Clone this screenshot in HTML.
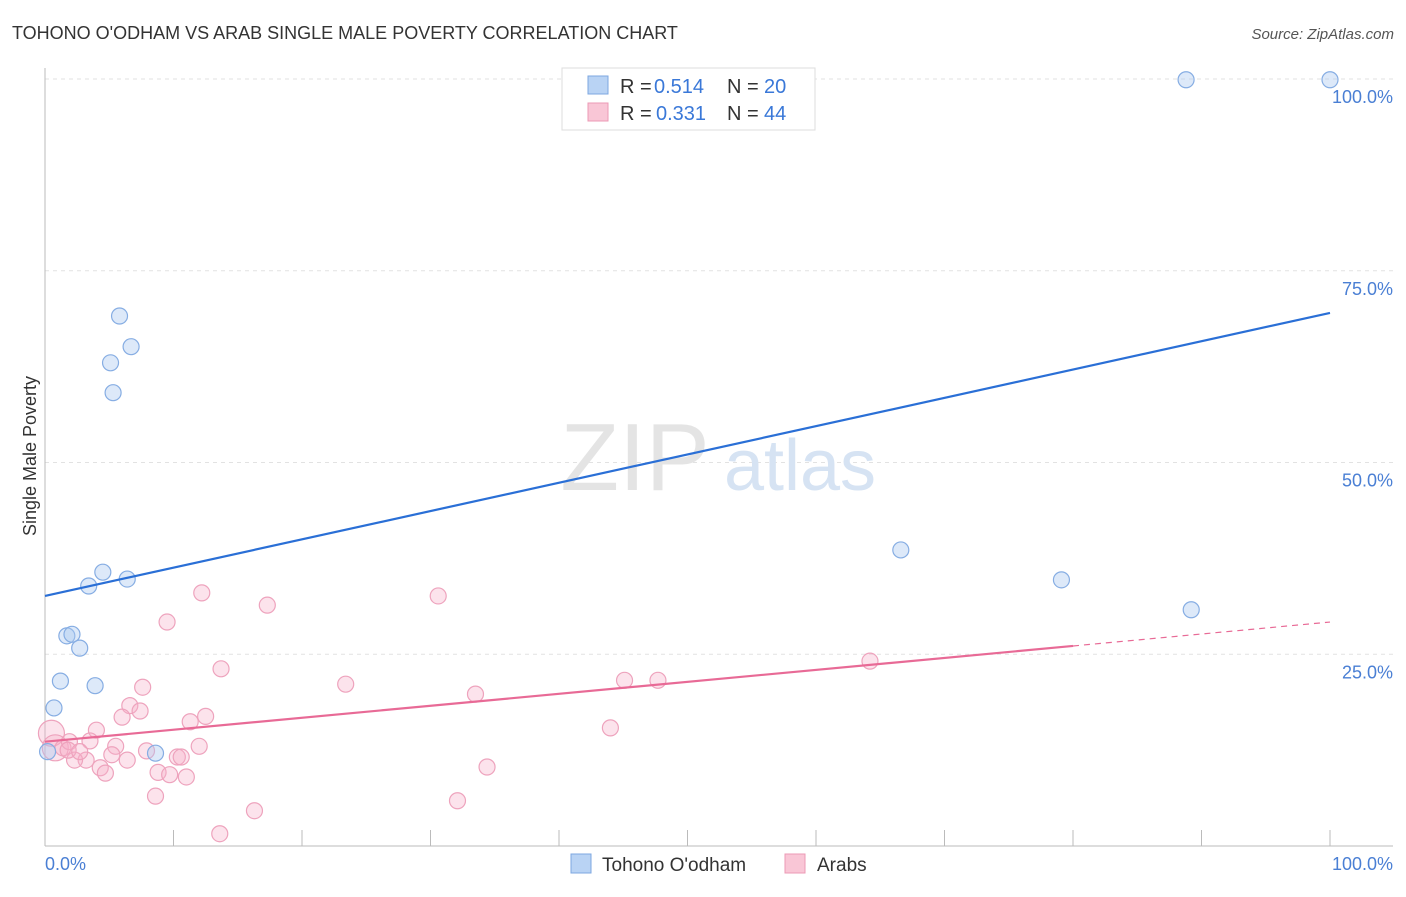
<!DOCTYPE html>
<html><head><meta charset="utf-8"><style>
body{margin:0;background:#fff;font-family:"Liberation Sans",sans-serif;}
svg text{font-family:"Liberation Sans",sans-serif;}
</style></head><body>
<svg id="chart" width="1406" height="892" xmlns="http://www.w3.org/2000/svg">
<text x="12" y="39" font-size="18" fill="#333">TOHONO O'ODHAM VS ARAB SINGLE MALE POVERTY CORRELATION CHART</text>
<text x="1394" y="39" font-size="15" fill="#555" font-style="italic" text-anchor="end">Source: ZipAtlas.com</text>
<g id="grid"></g>
<text x="635" y="490" font-size="96" fill="#e4e4e4" font-family="Liberation Serif" text-anchor="middle">ZIP</text>
<text x="800" y="490" font-size="72" fill="#d6e3f3" text-anchor="middle">atlas</text>
<g id="marks"></g>
<text x="36" y="456" font-size="18" fill="#333" transform="rotate(-90 36 456)" text-anchor="middle">Single Male Poverty</text>
<text x="45" y="870" font-size="18" fill="#4a7fd4">0.0%</text>
<text x="1393" y="870" font-size="18" fill="#4a7fd4" text-anchor="end">100.0%</text>
<g>
<rect x="562" y="68" width="253" height="62" fill="#fff" stroke="#ddd"/>
<rect x="588" y="76" width="20" height="18" fill="#b9d3f4" stroke="#7da7e0"/>
<rect x="588" y="103" width="20" height="18" fill="#f9c6d6" stroke="#ec9ab5"/>
<text x="620" y="93" font-size="20" fill="#333">R =</text>
<text x="654" y="93" font-size="20" fill="#3a78d8">0.514</text>
<text x="727" y="93" font-size="20" fill="#333">N =</text>
<text x="764" y="93" font-size="20" fill="#3a78d8">20</text>
<text x="620" y="120" font-size="20" fill="#333">R =</text>
<text x="656" y="120" font-size="20" fill="#3a78d8">0.331</text>
<text x="727" y="120" font-size="20" fill="#333">N =</text>
<text x="764" y="120" font-size="20" fill="#3a78d8">44</text>
</g>
<g>
<rect x="571" y="854" width="20" height="19" fill="#b9d3f4" stroke="#7da7e0"/>
<text x="602" y="871" font-size="19" fill="#333">Tohono O'odham</text>
<rect x="785" y="854" width="20" height="19" fill="#f9c6d6" stroke="#ec9ab5"/>
<text x="817" y="871" font-size="19" fill="#333">Arabs</text>
</g>
</svg>
<script>
const yTicks=[25,50,75,100];
const yTickLabels=["25.0%","50.0%","75.0%","100.0%"];
const blueX=[88.8,100,5.8,6.7,5.1,5.3,66.6,79.1,89.2,4.5,6.4,3.4,1.7,2.1,2.7,1.2,3.9,0.7,8.6,0.2];
const blueY=[99.9,99.9,69.1,65.1,63.0,59.1,38.6,34.7,30.8,35.7,34.8,33.9,27.4,27.6,25.8,21.5,20.9,18.0,12.1,12.3];
const pinkX=[12.2,17.3,30.6,9.5,13.7,64.2,23.4,45.1,47.7,33.5,7.6,6.6,7.4,6.0,12.5,11.3,4.0,44.0,3.5,5.5,12.0,7.9,10.3,10.6,5.2,6.4,3.2,2.3,4.3,4.7,8.8,9.7,11.0,34.4,8.6,32.1,16.3,13.6,0.5,0.8,1.4,1.9,1.8,2.7];
const pinkY=[33.0,31.4,32.6,29.2,23.1,24.1,21.1,21.6,21.6,19.8,20.7,18.3,17.6,16.8,16.9,16.2,15.1,15.4,13.7,13.0,13.0,12.4,11.6,11.6,11.9,11.2,11.2,11.2,10.2,9.5,9.6,9.3,9.0,10.3,6.5,5.9,4.6,1.6,14.7,12.8,12.8,13.6,12.5,12.3];
const blueLine=[32.6,69.5];
const pinkLine=[13.6,29.2];
const pinkSolidEnd=80;
const NS="http://www.w3.org/2000/svg";
const sx=v=>45+v*12.85, sy=v=>846-v*7.67;
function mk(t,a,p){const e=document.createElementNS(NS,t);for(const k in a)e.setAttribute(k,a[k]);p.appendChild(e);return e;}
const grid=document.getElementById('grid'), marks=document.getElementById('marks');
yTicks.forEach((t,i)=>{
 const l=mk('line',{x1:45,x2:1393,y1:sy(t),y2:sy(t),stroke:'#e2e2e2','stroke-dasharray':'4,4'},grid);
 
 
 const tx=mk('text',{x:1393,y:sy(t)+24,'font-size':18,fill:'#4a7fd4','text-anchor':'end'},grid);
 tx.textContent=yTickLabels[i];
 
 
});
const ax=mk('line',{x1:45,x2:1393,y1:846,y2:846,stroke:'#bbb'},grid);


const ay=mk('line',{x1:45,x2:45,y1:68,y2:846,stroke:'#bbb'},grid);


for(let i=0;i<=10;i++){const t=mk('line',{x1:sx(i*10),x2:sx(i*10),y1:830,y2:846,stroke:'#bbb'},grid);
 
 }
pinkX.forEach((x,i)=>{const r=(i>=38&&i<=39)?13:8;const c=mk('circle',{cx:sx(x),cy:sy(pinkY[i]),r:r,fill:'rgba(246,176,200,0.35)',stroke:'#eea3bd','stroke-width':1.2},marks);
 
 });
blueX.forEach((x,i)=>{const c=mk('circle',{cx:sx(x),cy:sy(blueY[i]),r:8,fill:'rgba(170,200,240,0.4)',stroke:'#86ade3','stroke-width':1.2},marks);
 
 });
const bl=mk('line',{x1:sx(0),y1:sy(blueLine[0]),x2:sx(100),y2:sy(blueLine[1]),stroke:'#2a6fd6','stroke-width':2.2},marks);


const pm=pinkLine[0]+(pinkLine[1]-pinkLine[0])*pinkSolidEnd/100;
const pl=mk('line',{x1:sx(0),y1:sy(pinkLine[0]),x2:sx(pinkSolidEnd),y2:sy(pm),stroke:'#e86a96','stroke-width':2.2},marks);


const pd=mk('line',{x1:sx(pinkSolidEnd),y1:sy(pm),x2:sx(100),y2:sy(pinkLine[1]),stroke:'#e86a96','stroke-width':1.2,'stroke-dasharray':'6,5'},marks);


</script>
</body></html>
